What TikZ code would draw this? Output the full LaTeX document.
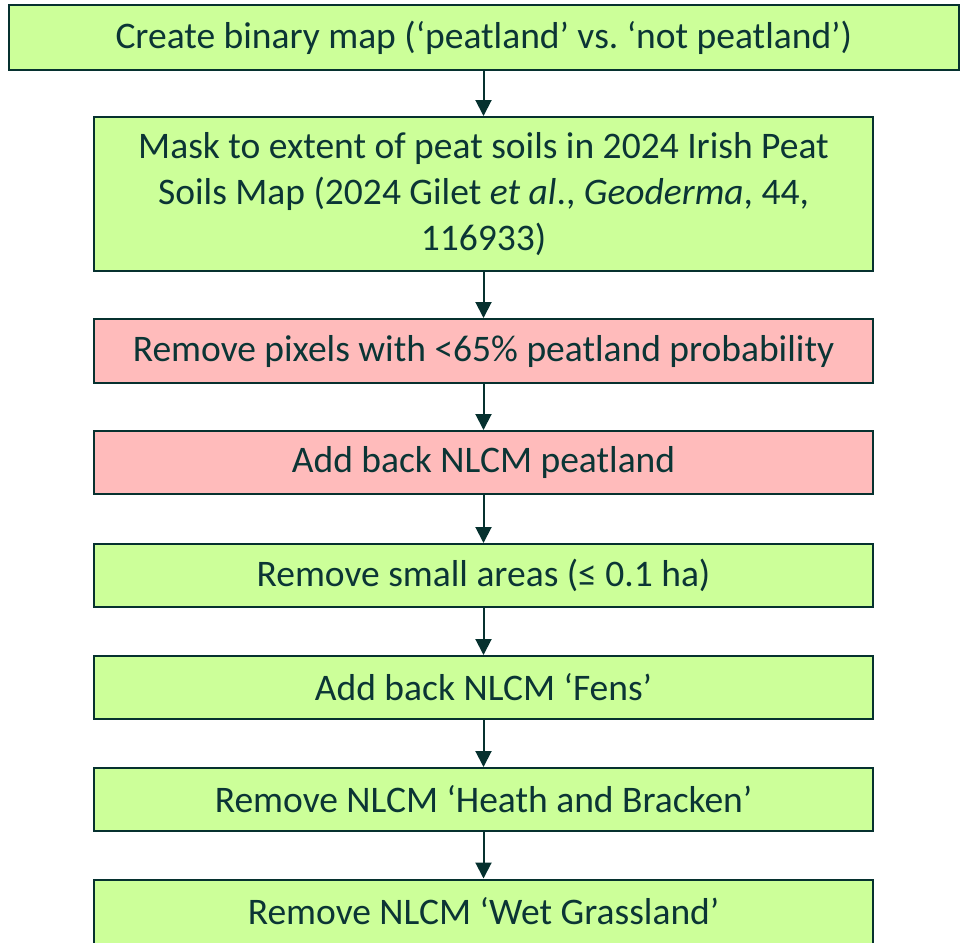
\documentclass[tikz,border=0pt]{standalone}
\usepackage{fontspec}
\setmainfont{Carlito}
\frenchspacing
\usetikzlibrary{arrows.meta}
\definecolor{boxgreen}{HTML}{CCFF99}
\definecolor{boxpink}{HTML}{FFBBBB}
\definecolor{edge}{HTML}{06312F}
\definecolor{txt}{HTML}{0B3535}
\tikzset{
  stepbox/.style={draw=edge, line width=2pt, fill=boxgreen, text=txt, align=center,
    inner sep=0pt, font=\fontsize{37.5}{46}\selectfont},
  pinkbox/.style={stepbox, fill=boxpink},
  flow/.style={draw=edge, line width=2pt, -{Triangle[width=16pt,length=16pt]}}
}
\begin{document}
\begin{tikzpicture}[x=1pt,y=-1pt]
\useasboundingbox (0,0) rectangle (962,943);
\node[stepbox, minimum width=950pt, minimum height=65pt] (b1) at (483.75,37.5) {Create binary map (‘peatland’ vs. ‘not peatland’)};
\node[stepbox, minimum width=779pt, minimum height=154pt] (b2) at (483.5,194) {Mask to extent of peat soils in 2024 Irish Peat\\Soils Map (2024 Gilet \textit{et al}., \textit{Geoderma}, 44,\\116933)};
\node[pinkbox, minimum width=779pt, minimum height=64pt] (b3) at (483.5,351) {Remove pixels with <65\% peatland probability};
\node[pinkbox, minimum width=779pt, minimum height=63pt] (b4) at (483.5,462.5) {Add back NLCM peatland};
\node[stepbox, minimum width=779pt, minimum height=63pt] (b5) at (483.5,575.5) {Remove small areas (≤ 0.1 ha)};
\node[stepbox, minimum width=779pt, minimum height=63pt] (b6) at (483.5,687.5) {Add back NLCM ‘Fens’};
\node[stepbox, minimum width=779pt, minimum height=63pt] (b7) at (483.5,799.5) {Remove NLCM ‘Heath and Bracken’};
\node[stepbox, minimum width=779pt, minimum height=64pt] (b8) at (483.5,911.5) {Remove NLCM ‘Wet Grassland’};
\draw[flow] (b1.south -| b2.north) -- (b2.north);
\draw[flow] (b2) -- (b3);
\draw[flow] (b3) -- (b4);
\draw[flow] (b4) -- (b5);
\draw[flow] (b5) -- (b6);
\draw[flow] (b6) -- (b7);
\draw[flow] (b7) -- (b8);
\end{tikzpicture}
\end{document}
